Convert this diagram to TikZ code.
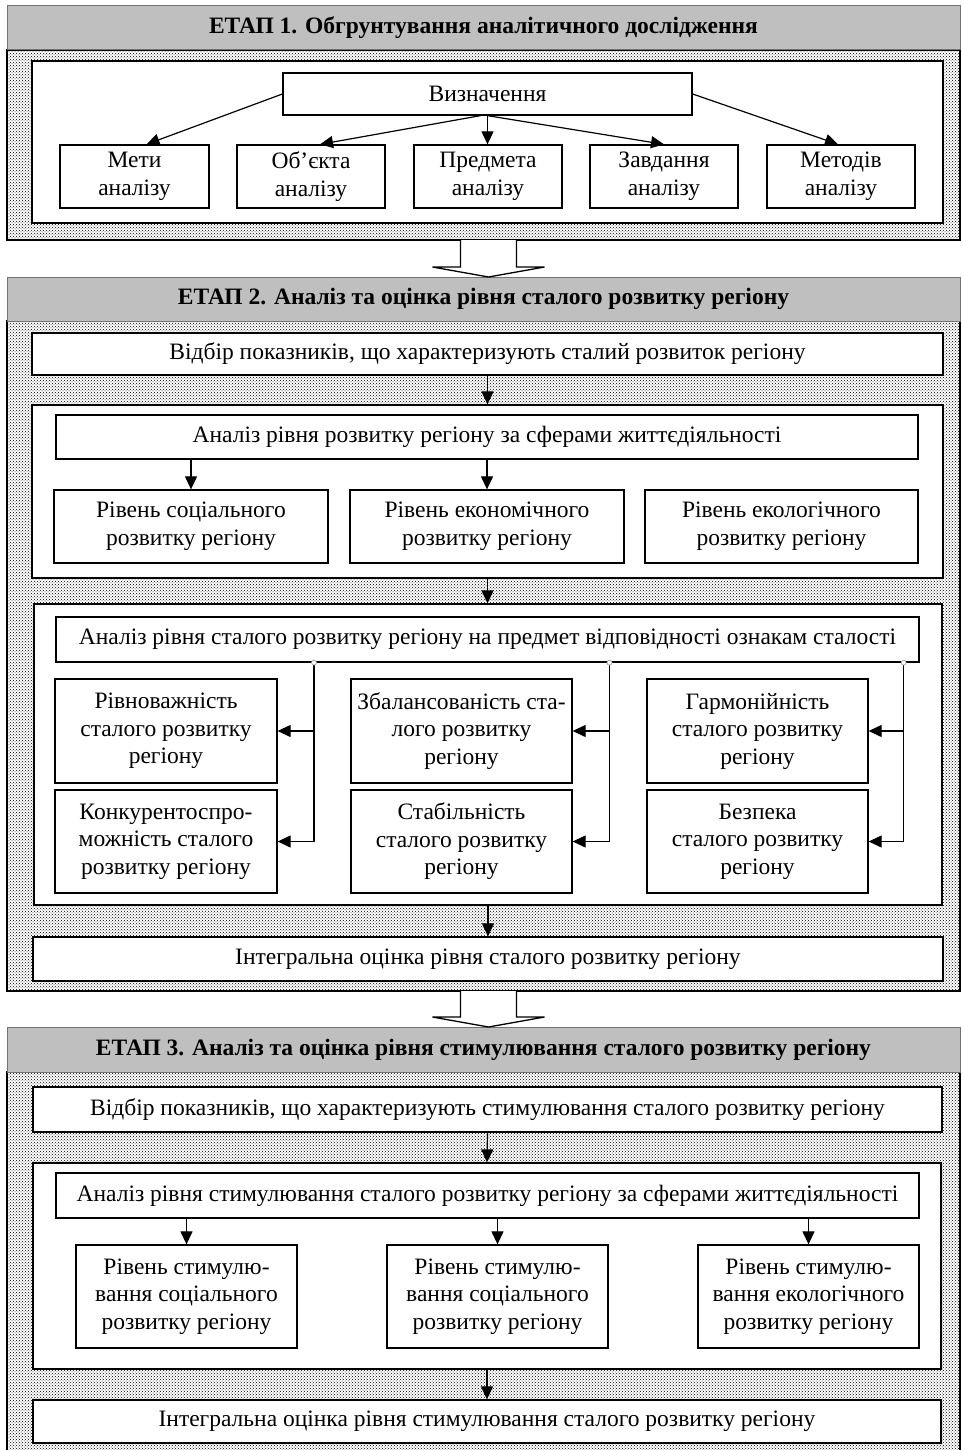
\documentclass[tikz,border=0pt]{standalone}
\usepackage{fontspec}
\setmainfont{Liberation Serif}
\usetikzlibrary{arrows.meta,patterns,calc}
\tikzset{
  box/.style={draw, line width=1.3pt, fill=white, inner sep=0pt, align=center,
    font=\fontsize{23.5}{27.5}\selectfont},
  cont/.style={draw, line width=1.3pt, fill=white, inner sep=0pt},
  hatch/.style={draw, line width=1.3pt, inner sep=0pt, fill=white,
    postaction={pattern=crosshatch dots, pattern color=black}},
  band/.style={draw=black!55, line width=1pt, fill=black!25, inner sep=0pt,
    font=\bfseries\fontsize{23.5}{27}\selectfont},
  arr/.style={line width=1.2pt, -{Triangle[length=13pt,width=12pt]}},
  blockarr/.style={draw, line width=1.3pt, fill=white, line join=miter},
  tap/.style={circle, draw=black!40, fill=white, inner sep=0pt, minimum size=5pt, line width=0.6pt},
}
\newcommand\mkbox[7][box]{\node[#1, minimum width={#5-#3}, minimum height={#6-#4}] (#2) at ({(#3+#5)/2},{(#4+#6)/2}) {#7};}
\begin{document}
\begin{tikzpicture}[x=1pt,y=-1pt]
\clip (0,0) rectangle (962,1450);
% ---------------- STAGE 1
\mkbox[hatch]{s1}{7}{50}{960}{240}{}
\mkbox[band]{b1}{7}{6}{960}{50}{ЕТАП 1. Обгрунтування аналітичного дослідження}
\mkbox[cont]{c1}{32}{61}{943}{223}{}
\mkbox{viz}{283}{73}{692}{115}{Визначення}
\mkbox{meta}{60}{145}{209}{208}{Мети\\аналізу}
\mkbox{obj}{237}{145}{385}{208}{Об’єкта\\аналізу}
\mkbox{pred}{414}{145}{562}{208}{Предмета\\аналізу}
\mkbox{zav}{590}{145}{738}{208}{Завдання\\аналізу}
\mkbox{met}{767}{145}{915}{208}{Методів\\аналізу}
\draw[arr] (viz.west) -- ([xshift=12pt]meta.north);
\draw[arr] ([xshift=-7pt]viz.south) -- ([xshift=9pt]obj.north);
\draw[arr] (viz.south) -- (viz.south |- pred.north);
\draw[arr] (viz.south) -- (zav.north);
\draw[arr] (viz.east) -- ([xshift=-3pt]met.north);
% ---------------- STAGE 2
\mkbox[hatch]{s2}{7}{321}{960}{991}{}
\mkbox[band]{b2}{7}{277}{960}{321}{ЕТАП 2. Аналіз та оцінка рівня сталого розвитку регіону}
\begin{scope}[shift={(488.5,240)}]
  \draw[blockarr] (-28,0) -- (-28,27) -- (-56,27) -- (0,37) -- (56,27) -- (28,27) -- (28,0);
\end{scope}
\mkbox{vid2}{32}{333}{943}{375}{Відбір показників, що характеризують сталий розвиток регіону}
\mkbox[cont]{c2a}{32}{405}{943}{578}{}
\mkbox{an2a}{56}{415}{918}{459}{Аналіз рівня розвитку регіону за сферами життєдіяльності}
\mkbox{soc2}{54}{490}{328}{563}{Рівень соціального\\розвитку регіону}
\mkbox{eco2}{350}{490}{624}{563}{Рівень економічного\\розвитку регіону}
\mkbox{ecl2}{645}{490}{918}{563}{Рівень екологічного\\розвитку регіону}
\draw[arr] (vid2.south) -- (c2a.north);
\draw[arr] (an2a.south -| soc2.north) -- (soc2.north);
\draw[arr] (an2a.south -| eco2.north) -- (eco2.north);
\mkbox[cont]{c2b}{34}{604}{942}{905}{}
\draw[arr] (c2a.south) -- (c2a.south |- c2b.north);
\mkbox{an2b}{56}{617}{919}{662}{Аналіз рівня сталого розвитку регіону на предмет відповідності ознакам сталості}
\mkbox{r1}{55}{679}{277}{783}{Рівноважність\\сталого розвитку\\регіону}
\mkbox{k1}{55}{790}{277}{893}{Конкурентоспро-\\можність сталого\\розвитку регіону}
\mkbox{z1}{351}{679}{572}{783}{Збалансованість ста-\\лого розвитку\\регіону}
\mkbox{st1}{351}{790}{572}{893}{Стабільність\\сталого розвитку\\регіону}
\mkbox{g1}{647}{679}{868}{783}{Гармонійність\\сталого розвитку\\регіону}
\mkbox{bz1}{647}{790}{868}{893}{Безпека\\сталого розвитку\\регіону}
\coordinate (m1) at ($(r1.east)!0.5!(z1.west)$);
\coordinate (m2) at ($(z1.east)!0.5!(g1.west)$);
\coordinate (m3) at ($(g1.east)+(35,0)$);
\coordinate (t1) at (m1 |- an2b.south);
\coordinate (t2) at (m2 |- an2b.south);
\coordinate (t3) at (m3 |- an2b.south);
\draw[arr] (t1) |- (r1.east);
\draw[arr] (t1) |- (k1.east);
\draw[arr] (t2) |- (z1.east);
\draw[arr] (t2) |- (st1.east);
\draw[arr] (t3) |- (g1.east);
\draw[arr] (t3) |- (bz1.east);
\node[tap] (t1c) at (t1) {};
\node[tap] (t2c) at (t2) {};
\node[tap] (t3c) at (t3) {};
\mkbox{int2}{33}{937}{943}{981}{Інтегральна оцінка рівня сталого розвитку регіону}
\draw[arr] (c2b.south) -- (c2b.south |- int2.north);
% ---------------- STAGE 3
\mkbox[hatch]{s3}{7}{1072}{960}{1470}{}
\mkbox[band]{b3}{7}{1027}{960}{1072}{ЕТАП 3. Аналіз та оцінка рівня стимулювання сталого розвитку регіону}
\begin{scope}[shift={(488.5,991)}]
  \draw[blockarr] (-28,0) -- (-28,26) -- (-56,26) -- (0,36) -- (56,26) -- (28,26) -- (28,0);
\end{scope}
\mkbox{vid3}{33}{1087}{942}{1132}{Відбір показників, що характеризують стимулювання сталого розвитку регіону}
\mkbox[cont]{c3}{33}{1163}{941}{1369}{}
\draw[arr] (vid3.south) -- (c3.north);
\mkbox{an3}{56}{1173}{919}{1218}{Аналіз рівня стимулювання сталого розвитку регіону за сферами життєдіяльності}
\mkbox{l1}{76}{1245}{297}{1348}{Рівень стимулю-\\вання соціального\\розвитку регіону}
\mkbox{l2}{387}{1245}{608}{1348}{Рівень стимулю-\\вання соціального\\розвитку регіону}
\mkbox{l3}{698}{1245}{919}{1348}{Рівень стимулю-\\вання екологічного\\розвитку регіону}
\draw[arr] (an3.south -| l1.north) -- (l1.north);
\draw[arr] (an3.south -| l2.north) -- (l2.north);
\draw[arr] (an3.south -| l3.north) -- (l3.north);
\mkbox{int3}{33}{1400}{941}{1443}{Інтегральна оцінка рівня стимулювання сталого розвитку регіону}
\draw[arr] (c3.south) -- (c3.south |- int3.north);
\end{tikzpicture}
\end{document}
